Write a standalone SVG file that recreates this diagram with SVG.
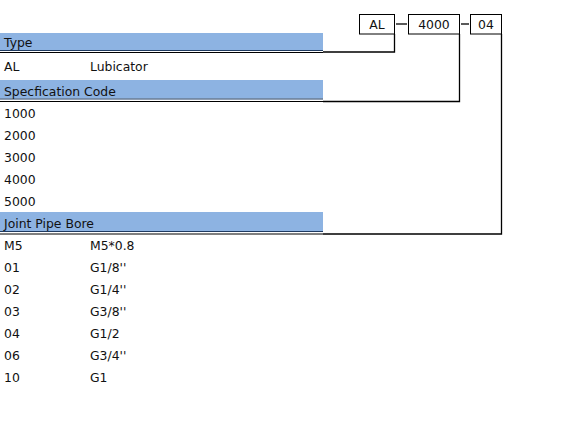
<svg xmlns="http://www.w3.org/2000/svg" width="570" height="439" viewBox="0 0 570 439">
<style>
text{font-family:"DejaVu Sans","Verdana",sans-serif;font-size:12.4px;fill:#111}
.band{fill:#8DB3E2}
.ul1{stroke:#1F3A60;stroke-width:1}
.ul2{stroke:#000;stroke-width:1.2}
.box{fill:#fff;stroke:#000;stroke-width:1}
.con{fill:none;stroke:#000;stroke-width:1.3}
.c{text-anchor:middle}
</style>
<rect width="570" height="439" fill="#fff"/>
<g id="header-type">
<rect class="band" x="0" y="33" width="323" height="17"/>
<line class="ul1" x1="0" y1="50.5" x2="323" y2="50.5"/>
<line class="ul2" x1="0" y1="52.5" x2="323" y2="52.5"/>
<text x="4" y="47">Type</text>
</g>
<g id="row-type">
<text x="4" y="71">AL</text>
<text x="90" y="71">Lubicator</text>
</g>
<g id="header-spec">
<rect class="band" x="0" y="80" width="323" height="18.5"/>
<line class="ul1" x1="0" y1="99" x2="323" y2="99"/>
<line class="ul2" x1="0" y1="101.5" x2="323" y2="101.5"/>
<text x="4" y="95.5">Specfication Code</text>
</g>
<g id="rows-spec">
<text x="4" y="118">1000</text>
<text x="4" y="140">2000</text>
<text x="4" y="162">3000</text>
<text x="4" y="184">4000</text>
<text x="4" y="206">5000</text>
</g>
<g id="header-bore">
<rect class="band" x="0" y="212" width="323" height="19.5"/>
<line class="ul1" x1="0" y1="231.5" x2="323" y2="231.5"/>
<line class="ul2" x1="0" y1="234" x2="323" y2="234"/>
<text x="4" y="228">Joint Pipe Bore</text>
</g>
<g id="rows-bore">
<text x="4" y="250">M5</text><text x="90" y="250">M5*0.8</text>
<text x="4" y="272">01</text><text x="90" y="272">G1/8''</text>
<text x="4" y="294">02</text><text x="90" y="294">G1/4''</text>
<text x="4" y="316">03</text><text x="90" y="316">G3/8''</text>
<text x="4" y="338">04</text><text x="90" y="338">G1/2</text>
<text x="4" y="360">06</text><text x="90" y="360">G3/4''</text>
<text x="4" y="382">10</text><text x="90" y="382">G1</text>
</g>
<g id="box-al">
<rect class="box" x="359.5" y="14.5" width="35" height="19.5"/>
<text class="c" x="377" y="29">AL</text>
</g>
<g id="box-4000">
<rect class="box" x="408.5" y="14.5" width="51" height="19.5"/>
<text class="c" x="434" y="29">4000</text>
</g>
<g id="box-04">
<rect class="box" x="470.5" y="14.5" width="31" height="19.5"/>
<text class="c" x="486" y="29">04</text>
</g>
<g id="connectors">
<line class="con" x1="396" y1="24" x2="407" y2="24"/>
<line class="con" x1="461" y1="24" x2="469" y2="24"/>
<polyline class="con" points="394.5,34 394.5,52 323,52"/>
<polyline class="con" points="459.5,34 459.5,101.5 323,101.5"/>
<polyline class="con" points="501.5,34 501.5,234 323,234"/>
</g>
</svg>
